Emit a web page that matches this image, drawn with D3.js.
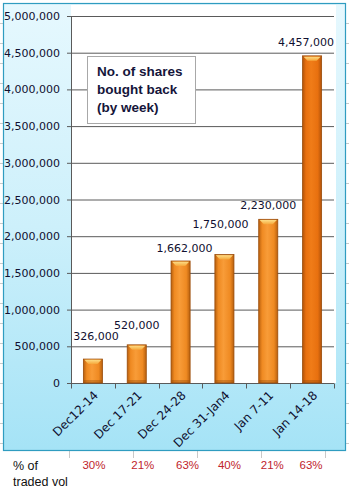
<!DOCTYPE html>
<html>
<head>
<meta charset="utf-8">
<script src="https://cdn.jsdelivr.net/npm/d3@7/dist/d3.min.js"></script>
<style>
  html, body { margin: 0; padding: 0; background: #ffffff; }
  svg { display: block; }
</style>
</head>
<body>
<div id="chart"></div>
<script>
// Weekly share buyback
const weeks = ["Dec12-14", "Dec 17-21", "Dec 24-28", "Dec 31-Jan4", "Jan 7-11", "Jan 14-18"];
const sharesBought = [326000, 520000, 1662000, 1750000, 2230000, 4457000];
const pctTradedVol = ["30%", "21%", "63%", "40%", "21%", "63%"];
const yTicks = [0, 500000, 1000000, 1500000, 2000000, 2500000, 3000000, 3500000, 4000000, 4500000, 5000000];

// hand-placed label nudges (px)
const labelLift = [19, 16, 9, 27, 10, 10];
const labelShift = [3, 0, 4, -4, 0, -6];
const pctShift = [1, 6, 7, 5, 4, -1];

const W = 349, H = 488;
const svg = d3.select("#chart").append("svg").attr("width", W).attr("height", H);
const defs = svg.append("defs");

const bg = defs.append("linearGradient").attr("id", "frameFill")
  .attr("x1", 0).attr("y1", 0).attr("x2", 0).attr("y2", 1);
bg.append("stop").attr("offset", 0).attr("stop-color", "#e6f8fe");
bg.append("stop").attr("offset", 0.5).attr("stop-color", "#cdf0fb");
bg.append("stop").attr("offset", 1).attr("stop-color", "#a5e3f6");

function barGrad(id, edge, mid, light) {
  const g = defs.append("linearGradient").attr("id", id)
    .attr("x1", 0).attr("y1", 0).attr("x2", 1).attr("y2", 0);
  g.append("stop").attr("offset", 0).attr("stop-color", edge);
  g.append("stop").attr("offset", 0.18).attr("stop-color", mid);
  g.append("stop").attr("offset", 0.45).attr("stop-color", light);
  g.append("stop").attr("offset", 0.8).attr("stop-color", mid);
  g.append("stop").attr("offset", 1).attr("stop-color", edge);
}
barGrad("barFill", "#b8600e", "#ef8a22", "#f89c38");
barGrad("barFillLast", "#b0520a", "#e8700f", "#f07c18");

const capG = defs.append("linearGradient").attr("id", "capFill")
  .attr("x1", 0).attr("y1", 0).attr("x2", 0).attr("y2", 1);
capG.append("stop").attr("offset", 0).attr("stop-color", "#fde08a");
capG.append("stop").attr("offset", 1).attr("stop-color", "#f6a83a");

// faint sheet grid marks around the frame
const gridMark = svg.append("g").attr("stroke", "#c9c9c9").attr("stroke-width", 1);
d3.range(23, 450, 20).forEach(yy => {
  gridMark.append("line").attr("x1", 0).attr("x2", 3).attr("y1", yy + 0.5).attr("y2", yy + 0.5);
  gridMark.append("line").attr("x1", 346).attr("x2", 349).attr("y1", yy + 0.5).attr("y2", yy + 0.5);
});
[69, 133, 197, 261, 325].forEach(xx => {
  gridMark.append("line").attr("x1", xx + 0.5).attr("x2", xx + 0.5).attr("y1", 451).attr("y2", 458);
});

// chart frame
svg.append("rect").attr("x", 3.5).attr("y", 3.5).attr("width", 342).attr("height", 447)
  .attr("fill", "url(#frameFill)").attr("stroke", "#2f9cc0").attr("stroke-width", 1.2);

const x = d3.scaleBand().domain(weeks).range([71, 334])
  .paddingInner(0.565).paddingOuter(0.2825);
const y = d3.scaleLinear().domain([0, 5000000]).range([383, 16]);

// plot area
svg.append("rect").attr("x", 71).attr("y", 5).attr("width", 265).attr("height", 378)
  .attr("fill", "#ffffff");

// gridlines + y axis
const yAxis = d3.axisLeft(y).tickValues(yTicks).tickSize(-(334 - 71)).tickSizeOuter(0)
  .tickPadding(11).tickFormat(d3.format(","));
const gy = svg.append("g").attr("transform", "translate(71,0)").call(yAxis);
gy.select(".domain").remove();
gy.selectAll(".tick line").attr("stroke", "#5a5a5a").attr("x1", -4);
gy.selectAll(".tick text").attr("fill", "#101030")
  .style("font-family", "'DejaVu Sans', Verdana, sans-serif").style("font-size", "11px");
svg.append("line").attr("x1", 71.5).attr("x2", 71.5).attr("y1", 16).attr("y2", 383)
  .attr("stroke", "#5a5a5a");

// x axis with boundary ticks
const gx = svg.append("g").attr("transform", "translate(0,383.5)");
gx.append("line").attr("x1", 71).attr("x2", 334).attr("stroke", "#5a5a5a");
const bounds = weeks.map(w => x(w) - x.step() * x.paddingInner() / 2).concat([334]);
gx.selectAll("line.b").data(bounds).enter().append("line").attr("class", "b")
  .attr("x1", d => Math.round(d) + 0.5).attr("x2", d => Math.round(d) + 0.5)
  .attr("y1", 0).attr("y2", 5).attr("stroke", "#5a5a5a");

// bars
const bars = svg.append("g");
bars.selectAll("rect").data(sharesBought).enter().append("rect")
  .attr("x", (d, i) => x(weeks[i]))
  .attr("y", d => y(d))
  .attr("width", x.bandwidth())
  .attr("height", d => y(0) - y(d))
  .attr("fill", (d, i) => i === weeks.length - 1 ? "url(#barFillLast)" : "url(#barFill)")
  .attr("stroke", "#9a4c0a").attr("stroke-width", 0.8);
// bevelled cap on each bar
bars.selectAll("path.cap").data(sharesBought).enter().append("path").attr("class", "cap")
  .attr("d", (d, i) => {
    const x0 = x(weeks[i]), x1 = x0 + x.bandwidth(), t = y(d);
    return `M${x0 + 1},${t + 0.8}L${x1 - 1},${t + 0.8}L${x1 - 5},${t + 5}L${x0 + 5},${t + 5}Z`;
  })
  .attr("fill", "url(#capFill)").attr("opacity", 0.95);
bars.selectAll("rect.shade").data(sharesBought).enter().append("rect").attr("class", "shade")
  .attr("x", (d, i) => x(weeks[i]) + 0.5)
  .attr("y", y(0) - 3).attr("width", x.bandwidth() - 1).attr("height", 3)
  .attr("fill", "#8a4408").attr("opacity", 0.35);

// value labels
svg.append("g").selectAll("text").data(sharesBought).enter().append("text")
  .attr("x", (d, i) => x(weeks[i]) + x.bandwidth() / 2 + labelShift[i])
  .attr("y", (d, i) => y(d) - labelLift[i])
  .attr("text-anchor", "middle")
  .attr("fill", "#101030")
  .style("font-family", "'DejaVu Sans', Verdana, sans-serif").style("font-size", "11px")
  .text(d => d3.format(",")(d));

// category labels
svg.append("g").selectAll("text").data(weeks).enter().append("text")
  .attr("transform", d => `translate(${x(d) + x.bandwidth() / 2 + 6},${396}) rotate(-45)`)
  .attr("text-anchor", "end")
  .attr("fill", "#101030")
  .style("font-family", "'DejaVu Sans', Verdana, sans-serif").style("font-size", "12px")
  .text(d => d);

// title box
const tb = svg.append("g");
tb.append("rect").attr("x", 87.5).attr("y", 56.5).attr("width", 108).attr("height", 67)
  .attr("fill", "#ffffff").attr("stroke", "#a8a8a8").attr("stroke-width", 1);
["No. of shares", "bought back", "(by week)"].forEach((s, i) => {
  tb.append("text").attr("x", 97).attr("y", 76 + i * 18)
    .attr("fill", "#15153a")
    .style("font-family", "'Liberation Sans', Arial, sans-serif")
    .style("font-size", "13.5px").style("font-weight", "bold")
    .text(s);
});

// % of traded volume row
const pr = svg.append("g");
pr.append("text").attr("x", 13).attr("y", 470).text("% of");
pr.append("text").attr("x", 13).attr("y", 486).text("traded vol");
pr.selectAll("text").attr("fill", "#111")
  .style("font-family", "'Liberation Sans', Arial, sans-serif").style("font-size", "12.5px");
svg.append("g").selectAll("text").data(pctTradedVol).enter().append("text")
  .attr("x", (d, i) => x(weeks[i]) + x.bandwidth() / 2 + pctShift[i])
  .attr("y", 469)
  .attr("text-anchor", "middle")
  .attr("fill", "#c0242c")
  .style("font-family", "'Liberation Sans', Arial, sans-serif").style("font-size", "11.5px")
  .text(d => d);
</script>
</body>
</html>
